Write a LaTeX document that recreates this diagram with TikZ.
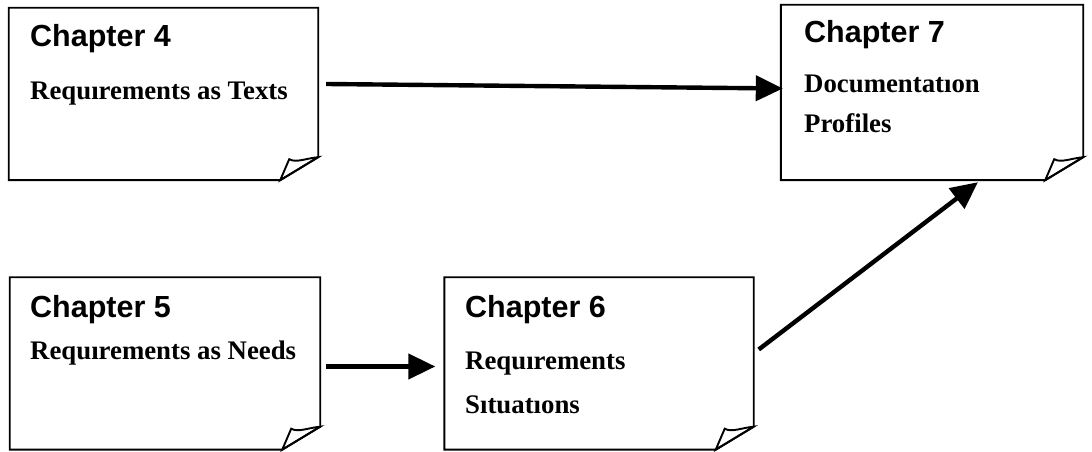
\documentclass[tikz,border=0pt]{standalone}
\usepackage{fontspec}
\setmainfont{Liberation Serif}
\newfontfamily\headfont{Liberation Sans}
\usetikzlibrary{arrows.meta}

\tikzset{
  note/.style={draw=none, minimum width=#1, minimum height=172bp, inner sep=0pt},
  noteline/.style={line width=1.9bp, line join=miter},
  flow/.style={line width=4.4bp, -{Triangle[length=27bp,width=25bp]}},
  head/.style={anchor=base west, inner sep=0pt, font=\headfont\bfseries\fontsize{30.5bp}{30.5bp}\selectfont},
  sub/.style={anchor=base west, inner sep=0pt, font=\bfseries\fontsize{26.8bp}{26.8bp}\selectfont},
}

\begin{document}
\begin{tikzpicture}[x=1bp, y=-1bp]
\useasboundingbox (0,0) rectangle (1092,452);

% note sheets
\node[note=309bp] (c4) at (163.5,94) {};
\node[note=302bp, minimum height=175bp] (c7) at (932,92.5) {};
\node[note=310bp] (c5) at (165,363.5) {};
\node[note=309bp] (c6) at (599,363.5) {};

% outlines with a dog-eared lower right corner
\foreach \n in {c4,c5,c6,c7}{
  \draw[noteline] (\n.north west) -- (\n.north east)
    -- ([yshift=23bp]\n.south east) -- ([xshift=-38bp]\n.south east)
    -- (\n.south west) -- cycle;
  \draw[noteline] ([xshift=-38bp]\n.south east) -- ([xshift=-29bp,yshift=21bp]\n.south east)
    .. controls ([xshift=-22bp,yshift=17bp]\n.south east) and ([xshift=-12bp,yshift=22bp]\n.south east)
    .. ([yshift=23bp]\n.south east) -- cycle;
}

% titles
\node[head] (h4) at (30,47) {Chapter 4};
\node[sub]  (s4) at (30,100) {Requırements as Texts};

\node[head] (h7) at (804,43) {Chapter 7};
\node[sub]  (s7a) at (804,93) {Documentatıon};
\node[sub]  (s7b) at (804,133) {Profiles};

\node[head] (h5) at (30,318) {Chapter 5};
\node[sub]  (s5) at (30,360) {Requırements as Needs};

\node[head] (h6) at (465,318) {Chapter 6};
\node[sub]  (s6a) at (465,370) {Requırements};
\node[sub]  (s6b) at (465,414) {Sıtuatıons};

% dependencies
\draw[flow] ([xshift=8bp,yshift=10bp]c4.east) -- ([xshift=2bp,yshift=4bp]c7.west);
\draw[flow] ([xshift=6bp,yshift=-3bp]c5.east) -- ([xshift=-9bp,yshift=-3bp]c6.west);
\draw[flow] ([xshift=5bp,yshift=14bp]c6.east) -- ([xshift=46bp,yshift=-2bp]c7.south);
\end{tikzpicture}
\end{document}
